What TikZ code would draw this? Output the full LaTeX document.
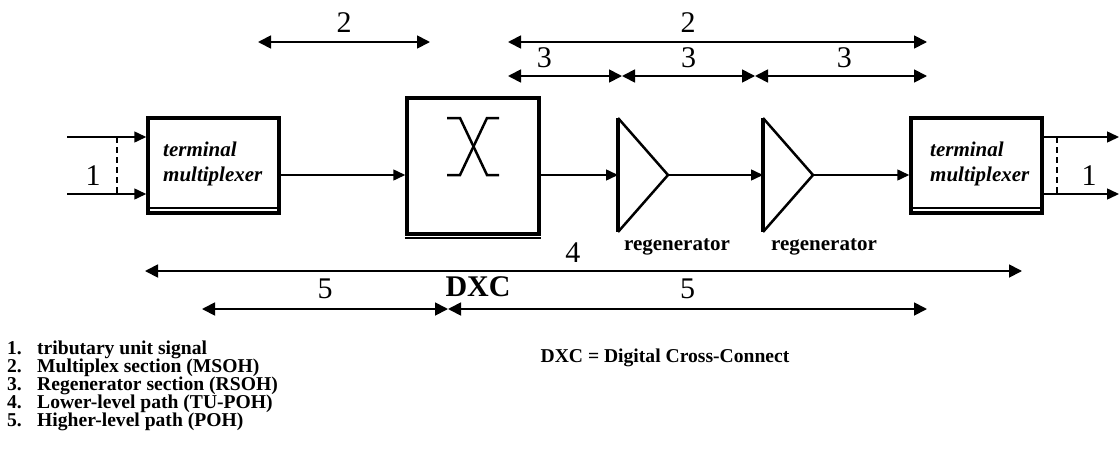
\documentclass[tikz,border=0pt]{standalone}
\usepackage{fontspec}
\setmainfont{Liberation Serif}
\usepackage{tikz}
\usetikzlibrary{arrows.meta, positioning, calc}
\tikzset{
  unit/.style={rectangle, draw, line width=3.5pt, minimum width=131pt, minimum height=95pt, inner sep=0pt},
  tmtext/.style={font=\fontsize{21}{25}\selectfont\bfseries\itshape, align=left, inner sep=0pt},
  regtext/.style={font=\fontsize{21}{24}\selectfont\bfseries, inner sep=0pt},
  legtext/.style={font=\fontsize{19.6}{20}\selectfont\bfseries, inner sep=0pt, anchor=base west},
  num/.style={font=\fontsize{30}{30}\selectfont, inner sep=0pt},
  sig/.style={-{Triangle[length=12pt,width=11pt]}, line width=1.5pt},
  dim/.style={<->, >={Triangle[length=13pt,width=13pt]}, line width=1.8pt},
  tie/.style={line width=1.3pt, dash pattern=on 6pt off 4pt},
  tri/.style={line width=2.5pt, line join=miter},
  triedge/.style={line width=4.5pt}
}
\begin{document}
\begin{tikzpicture}[x=1pt, y=-1pt]
  \useasboundingbox (0,0) rectangle (1119,450);

  % Terminal multiplexers
  \node[unit] (tm1) at (213.5,165.5) {};
  \node[tmtext, anchor=west] (tm1txt) at (163,164) {terminal\\multiplexer};
  \draw[line width=2.5pt] ($(tm1.south west)+(0,-7)$) -- ($(tm1.south east)+(0,-7)$);
  \node[unit] (tm2) at (976.5,165.5) {};
  \node[tmtext, anchor=west] (tm2txt) at (930,164) {terminal\\multiplexer};
  \draw[line width=2.5pt] ($(tm2.south west)+(0,-7)$) -- ($(tm2.south east)+(0,-7)$);

  % Cross-connect
  \node[unit, minimum width=132pt, minimum height=136pt] (dxc) at (473,166) {};
  \draw[line width=2pt] ($(dxc.south west)+(0,2)$) -- ($(dxc.south east)+(0,2)$);
  \draw[line width=2.5pt] (447,118) -- (460,118) -- (487,175) -- (499,175);
  \draw[line width=2.5pt] (447,175) -- (460,175) -- (487,118) -- (499,118);

  % Regenerators
  \coordinate (r1in) at (618,175);
  \coordinate (r1out) at (668,175);
  \draw[tri] (618,118) -- (r1out) -- (618,232);
  \draw[triedge] (618,118) -- (618,232);
  \node[regtext] (r1lbl) at (677,247) {regenerator};
  \coordinate (r2in) at (763,175);
  \coordinate (r2out) at (813,175);
  \draw[tri] (763,118) -- (r2out) -- (763,232);
  \draw[triedge] (763,118) -- (763,232);
  \node[regtext] (r2lbl) at (824,247) {regenerator};

  % Signal path
  \coordinate (in1) at (67,137);
  \coordinate (in2) at (67,194);
  \draw[sig] (in1) -- (in1 -| tm1.west);
  \draw[sig] (in2) -- (in2 -| tm1.west);
  \draw[tie] (117,137) -- (117,194);
  \node[num] (trib1) at (93,176) {1};
  \draw[sig] (tm1.east |- r1in) -- (dxc.west |- r1in);
  \draw[sig] (dxc.east |- r1in) -- (r1in);
  \draw[sig] (r1out) -- (r2in);
  \draw[sig] (r2out) -- (tm2.west |- r2out);
  \coordinate (out1) at (1119,137);
  \coordinate (out2) at (1119,194);
  \draw[sig] (tm2.east |- out1) -- (out1);
  \draw[sig] (tm2.east |- out2) -- (out2);
  \draw[tie] (1057,137) -- (1057,194);
  \node[num] (trib2) at (1089,176) {1};

  % Multiplex sections (2)
  \coordinate (ms1a) at (258,42);
  \coordinate (ms1b) at (430,42);
  \draw[dim] (ms1a) -- node[num, above=9pt] (ms1lbl) {2} (ms1b);
  \coordinate (ms2a) at (508,42);
  \coordinate (ms2b) at (927,42);
  \draw[dim] (ms2a) -- node[num, above=9pt, pos=0.43] (ms2lbl) {2} (ms2b);

  % Regenerator sections (3)
  \coordinate (rs0) at (508,76);
  \coordinate (rs1) at (622,76);
  \coordinate (rs2) at (755,76);
  \coordinate (rs3) at (927,76);
  \draw[dim] (rs0) -- node[num, above=7pt, pos=0.32] (rs1lbl) {3} (rs1);
  \draw[dim] (rs1) -- node[num, above=7pt] (rs2lbl) {3} (rs2);
  \draw[dim] (rs2) -- node[num, above=7pt, pos=0.52] (rs3lbl) {3} (rs3);

  % Lower-level path (4)
  \coordinate (lp1) at (145,271);
  \coordinate (lp2) at (1022,271);
  \draw[dim] (lp1) -- node[num, above=8pt, pos=0.488] (lplbl) {4} (lp2);

  % Higher-level path (5)
  \coordinate (hp1) at (202,309);
  \coordinate (hp2) at (448,309);
  \coordinate (hp3) at (927,309);
  \draw[dim] (hp1) -- node[num, above=9pt] (hp1lbl) {5} (hp2);
  \draw[dim] (hp2) -- node[num, above=9pt] (hp2lbl) {5} (hp3);
  \node[font=\fontsize{30}{30}\selectfont\bfseries, inner sep=0pt] (dxclbl) at (478,287) {DXC};

  % Legend
  \node[legtext] (leg1n) at (7,354) {1.};
  \node[legtext] (leg1) at (37,354) {tributary unit signal};
  \node[legtext] (leg2n) at (7,372) {2.};
  \node[legtext] (leg2) at (37,372) {Multiplex section (MSOH)};
  \node[legtext] (leg3n) at (7,390) {3.};
  \node[legtext] (leg3) at (37,390) {Regenerator section (RSOH)};
  \node[legtext] (leg4n) at (7,408) {4.};
  \node[legtext] (leg4) at (37,408) {Lower-level path (TU-POH)};
  \node[legtext] (leg5n) at (7,426) {5.};
  \node[legtext] (leg5) at (37,426) {Higher-level path (POH)};
  \node[legtext, anchor=base] (dxcdef) at (665,362) {DXC = Digital Cross-Connect};
\end{tikzpicture}
\end{document}
